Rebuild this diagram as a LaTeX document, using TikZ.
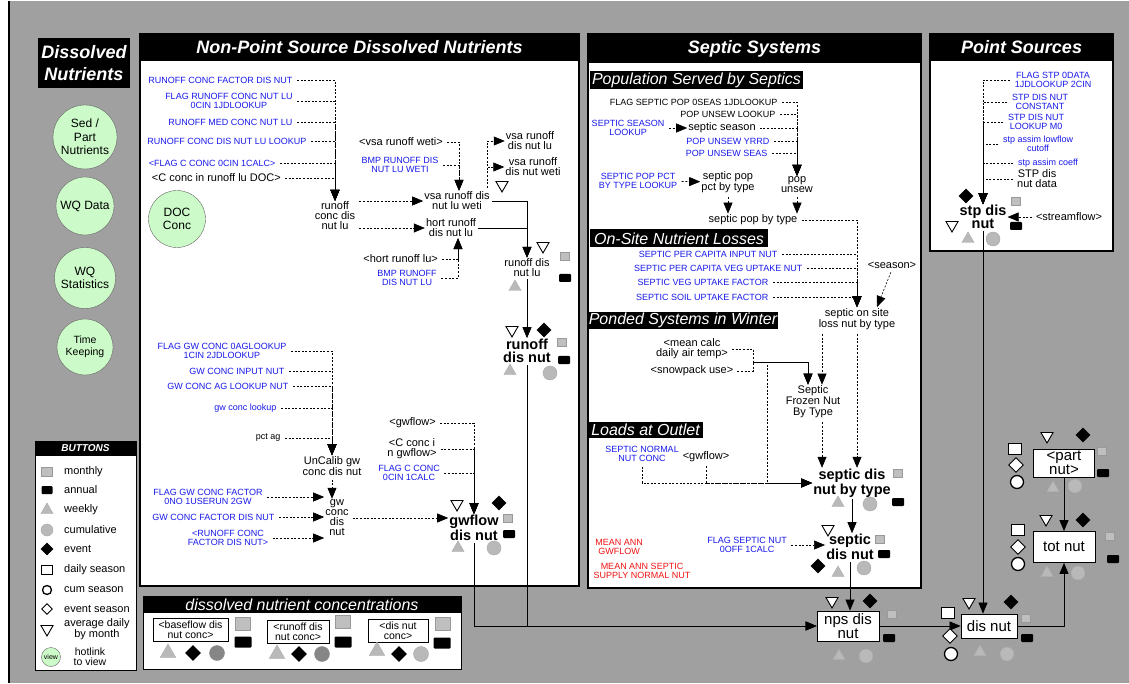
\documentclass[tikz,border=0pt]{standalone}
\usepackage{fontspec}
\setmainfont{Liberation Sans}
\usepackage{tikz}
\usetikzlibrary{arrows.meta,positioning,calc,shapes.geometric}
\definecolor{bggray}{RGB}{160,160,160}
\definecolor{hotgreen}{RGB}{204,250,200}
\definecolor{vblue}{RGB}{25,25,235}
\definecolor{vred}{RGB}{240,20,20}

\begin{document}
\begin{tikzpicture}[x=1pt,y=-1pt,>={Triangle[length=11pt,width=9pt]},
  lbl/.style={align=center,inner sep=1pt,font=\fontsize{11}{10}\selectfont},
  cst/.style={align=center,inner sep=1.5pt,text=vblue,font=\fontsize{9}{9.5}\selectfont},
  sml/.style={cst,text=black},
  rdl/.style={cst,text=vred},
  big/.style={align=center,inner sep=1pt,font=\fontsize{14.5}{12.5}\selectfont\bfseries},
  bx/.style={draw,fill=white,line width=0.8pt,align=center,inner sep=0pt,font=\fontsize{15}{12}\selectfont},
  cbx/.style={draw,fill=white,line width=0.8pt,align=center,inner sep=0pt,font=\fontsize{10.5}{10}\selectfont},
  hot/.style={circle,draw=black!60,fill=hotgreen,align=center,inner sep=0pt,font=\fontsize{12}{13.5}\selectfont},
  ttl/.style={text=white,font=\fontsize{18}{18}\selectfont\bfseries\itshape},
  titlebar/.style={fill=black,text=white,inner sep=0pt,font=\fontsize{16}{16}\selectfont\itshape},
  info/.style={->,shorten <=3pt,line width=0.6pt,dash pattern=on 2pt off 1.6pt},
  flow/.style={->,shorten <=1pt,line width=0.7pt},
  imon/.style={rectangle,draw=gray!80,fill=gray!50,minimum width=#1,minimum height=0.85*#1,inner sep=0pt},
  imon/.default=9pt,
  iann/.style={rectangle,fill=black,rounded corners=1pt,minimum width=#1,minimum height=8pt,inner sep=0pt},
  iann/.default=12pt,
  iwk/.style={regular polygon,regular polygon sides=3,draw=gray!65,fill=gray!55,minimum size=#1,inner sep=0pt},
  iwk/.default=14pt,
  icum/.style={circle,draw=gray!70,fill=gray!55,minimum size=#1,inner sep=0pt},
  icum/.default=14pt,
  ievt/.style={diamond,fill=black,minimum size=#1,inner sep=0pt},
  ievt/.default=15pt,
  iavg/.style={regular polygon,regular polygon sides=3,shape border rotate=180,draw,line width=0.9pt,fill=white,minimum size=#1,inner sep=0pt},
  iavg/.default=14pt,
  idse/.style={rectangle,draw,line width=1pt,fill=white,minimum width=#1,minimum height=0.85*#1,inner sep=0pt},
  idse/.default=13pt,
  icse/.style={circle,draw,line width=1.3pt,fill=white,minimum size=#1,inner sep=0pt},
  icse/.default=13pt,
  iese/.style={diamond,draw,line width=0.9pt,fill=white,minimum size=#1,inner sep=0pt},
  iese/.default=15pt,
  cmon/.style={imon=15pt},
  cann/.style={iann=17pt,minimum height=11pt},
  cwk/.style={iwk=18pt},
  cevt/.style={ievt=16pt},
  ccum/.style={icum=15pt},
  ccumd/.style={icum=15pt,draw=gray!95,fill=gray!95}]

  \fill[bggray] (0,0) rectangle (1129,682);
  \fill[white] (0,0) rectangle (8,682);
  \draw[line width=2pt] (9,0) -- (9,682);
  \useasboundingbox (0,0) rectangle (1129,682);

  \node[fill=black,text=white,align=center,inner sep=0pt,minimum width=92pt,minimum height=50pt,font=\fontsize{18}{22}\selectfont\bfseries\itshape] (tdn) at (84,62) {Dissolved\\Nutrients};
  \node[hot,minimum size=64pt] (sed) at (85,136) {Sed /\\Part\\Nutrients};
  \node[hot,minimum size=58pt] (wqd) at (85,205) {WQ Data};
  \node[hot,minimum size=61pt] (wqs) at (85,277) {WQ\\Statistics};
  \node[hot,minimum size=56pt,font=\fontsize{10.5}{12}\selectfont] (tk) at (85,346) {Time\\Keeping};

  \draw[fill=white,line width=1pt] (35,440) rectangle (136,669);
  \node[fill=black,text=white,inner sep=0pt,minimum width=101pt,minimum height=15pt,font=\fontsize{10}{10}\selectfont\bfseries\itshape] (bbut) at (85.5,447.5) {BUTTONS};
  \foreach \s/\z/\y/\t [count=\i] in {imon/11pt/471/monthly,iann/11pt/489/annual,iwk/14pt/509/weekly,icum/12pt/529/cumulative,ievt/13pt/548/event,idse/11pt/569/daily season,icse/9pt/589/cum season,iese/11pt/608/event season,iavg/14pt/628/{average daily\\by month}} {
    \node[\s=\z] (lg\i) at (47,\y) {};
    \node[lbl,anchor=west,font=\fontsize{11}{9.5}\selectfont] (lt\i) at (63,\y) {\t};
  }
  \node[hot,minimum size=19pt,font=\fontsize{7}{7}\selectfont] (view) at (51,656) {view};
  \node[lbl,font=\fontsize{10.5}{10}\selectfont] (hl) at (90,656) {hotlink\\to view};

  \draw[fill=white,line width=1.5pt] (140,33) rectangle (579,585);
  \fill (140,33) rectangle (579,60);
  \node[ttl] (tnps) at (359.5,46.5) {Non-Point Source Dissolved Nutrients};
  \draw[fill=white,line width=1.5pt] (588,33) rectangle (921,587);
  \fill (588,33) rectangle (921,62);
  \node[ttl] (tsep) at (754.5,47.5) {Septic Systems};
  \draw[fill=white,line width=1.5pt] (930,33) rectangle (1113,250);
  \fill (930,33) rectangle (1113,60);
  \node[ttl] (tpnt) at (1021.5,46.5) {Point Sources};
  \node[titlebar,minimum width=213pt,minimum height=18pt] (bpop) at (696.5,79) {Population Served by Septics};
  \node[titlebar,minimum width=178pt,minimum height=18pt] (bons) at (679,237.5) {On-Site Nutrient Losses};
  \node[titlebar,minimum width=190pt,minimum height=17pt] (bpnd) at (683,319.5) {Ponded Systems in Winter};
  \node[titlebar,minimum width=115pt,minimum height=16pt] (bout) at (645.5,429) {Loads at Outlet};
  \draw[fill=white,line width=1pt] (143,595) rectangle (461,668);
  \node[titlebar,minimum width=318pt,minimum height=17pt] (bcon) at (302,603.5) {dissolved nutrient concentrations};

  \node[cst,anchor=east] (rcf) at (294,79) {RUNOFF CONC FACTOR DIS NUT};
  \node[cst] (frc) at (229,100) {FLAG RUNOFF CONC NUT LU\\0CIN 1JDLOOKUP};
  \node[cst,anchor=east] (rmc) at (294,121) {RUNOFF MED CONC NUT LU};
  \node[cst,anchor=east] (rcl) at (308,140) {RUNOFF CONC DIS NUT LU LOOKUP};
  \node[cst,anchor=east] (fcc) at (277,162) {<FLAG C CONC 0CIN 1CALC>};
  \node[lbl,anchor=east] (cdoc) at (282,177) {<C conc in runoff lu DOC>};
  \node[lbl] (rcdnl) at (335,215) {runoff\\conc dis\\nut lu};
  \node[hot,minimum size=57pt] (doc) at (177,218) {DOC\\Conc};
  \node[lbl] (vsaw) at (457,200) {vsa runoff dis\\nut lu weti};
  \node[lbl] (hort) at (451,227) {hort runoff\\dis nut lu};
  \node[lbl,anchor=east] (vsawi) at (444,141) {<vsa runoff weti>};
  \node[cst] (bmpw) at (400,164) {BMP RUNOFF DIS\\NUT LU WETI};
  \node[lbl,anchor=east] (hortlu) at (439,258) {<hort runoff lu>};
  \node[cst] (bmph) at (407,277) {BMP RUNOFF\\DIS NUT LU};
  \node[lbl] (vsal) at (530,140) {vsa runoff\\dis nut lu};
  \node[lbl] (vsat) at (533,166) {vsa runoff\\dis nut weti};
  \node[lbl] (rdnl) at (527,267) {runoff dis\\nut lu};
  \node[big] (rdn) at (527,350) {runoff\\dis nut};

  \node[cst] (fgw) at (222,350) {FLAG GW CONC 0AGLOOKUP\\1CIN 2JDLOOKUP};
  \node[cst,anchor=east] (gwin) at (286,370) {GW CONC INPUT NUT};
  \node[cst,anchor=east] (gwag) at (290,385) {GW CONC AG LOOKUP NUT};
  \node[cst,anchor=east] (gwl) at (278,407) {gw conc lookup};
  \node[sml,anchor=east] (pctag) at (282,437) {pct ag};
  \node[lbl] (ugw) at (332,465) {UnCalib gw\\conc dis nut};
  \node[lbl] (gwc) at (337,517) {gw\\conc\\dis\\nut};
  \node[cst] (fgwf) at (208,496) {FLAG GW CONC FACTOR\\0NO 1USERUN 2GW};
  \node[cst,anchor=east] (gwcf) at (276,516) {GW CONC FACTOR DIS NUT};
  \node[cst] (rcfd) at (228,537) {<RUNOFF CONC\\FACTOR DIS NUT>};
  \node[big] (gwdn) at (474,527) {gwflow\\dis nut};
  \node[lbl,anchor=east] (gwf) at (437,422) {<gwflow>};
  \node[lbl] (ccg) at (412,448) {<C conc i\\n gwflow>};
  \node[cst] (fcc2) at (409,472) {FLAG C CONC\\0CIN 1CALC};

  \node[sml,anchor=east] (fsp) at (779,101) {FLAG SEPTIC POP 0SEAS 1JDLOOKUP};
  \node[sml,anchor=east] (pul) at (777,113) {POP UNSEW LOOKUP};
  \node[cst] (ssl) at (628,127) {SEPTIC SEASON\\LOOKUP};
  \node[lbl] (ss) at (722,127) {septic season};
  \node[cst,anchor=east] (puy) at (771,140) {POP UNSEW YRRD};
  \node[cst,anchor=east] (pus) at (769,152) {POP UNSEW SEAS};
  \node[lbl] (pu) at (797,184) {pop\\unsew};
  \node[cst] (spl) at (638,180) {SEPTIC POP PCT\\BY TYPE LOOKUP};
  \node[lbl] (spp) at (728,181) {septic pop\\pct by type};
  \node[lbl] (spt) at (753,219) {septic pop by type};
  \node[cst,anchor=east] (spc) at (779,253) {SEPTIC PER CAPITA INPUT NUT};
  \node[cst,anchor=east] (spv) at (804,267) {SEPTIC PER CAPITA VEG UPTAKE NUT};
  \node[cst,anchor=east] (svu) at (770,281) {SEPTIC VEG UPTAKE FACTOR};
  \node[cst,anchor=east] (ssu) at (770,296) {SEPTIC SOIL UPTAKE FACTOR};
  \node[lbl] (sea) at (892,264) {<season>};
  \node[lbl] (sos) at (857,318) {septic on site\\loss nut by type};
  \node[lbl] (mct) at (692,348) {<mean calc\\daily air temp>};
  \node[lbl] (snow) at (692,370) {<snowpack use>};
  \coordinate (pj) at (753,361);
  \coordinate (pk) at (767,361);
  \node[lbl,font=\fontsize{11}{11}\selectfont] (frz) at (813,401) {Septic\\Frozen Nut\\By Type};
  \node[big] (sdt) at (852,482) {septic dis\\nut by type};
  \node[cst] (snc) at (642,453) {SEPTIC NORMAL\\NUT CONC};
  \node[lbl] (gwf2) at (706,456) {<gwflow>};
  \node[big] (sdn) at (850,546) {septic\\dis nut};
  \node[cst] (fsn) at (747,544) {FLAG SEPTIC NUT\\0OFF 1CALC};
  \node[rdl] (mag) at (619,546) {MEAN ANN\\GWFLOW};
  \node[rdl] (mas) at (642,570) {MEAN ANN SEPTIC\\SUPPLY NORMAL NUT};

  \node[cst] (fstp) at (1053,79) {FLAG STP 0DATA\\1JDLOOKUP 2CIN};
  \node[cst] (stpc) at (1040,101) {STP DIS NUT\\CONSTANT};
  \node[cst] (stpl) at (1036,121) {STP DIS NUT\\LOOKUP M0};
  \node[cst] (sal) at (1038,143) {stp assim lowflow\\cutoff};
  \node[cst] (sac) at (1048,162) {stp assim coeff};
  \node[lbl] (stpd) at (1037,178) {STP dis\\nut data};
  \node[big] (stp) at (983,216) {stp dis\\nut};
  \node[lbl] (sf) at (1069,216) {<streamflow>};

  \node[bx,minimum width=62pt,minimum height=30pt] (nps) at (848,625) {nps dis\\nut};
  \node[bx,minimum width=56pt,minimum height=24pt] (dis) at (989,625) {dis nut};
  \node[bx,minimum width=62pt,minimum height=31pt] (tot) at (1064,546) {tot nut};
  \node[bx,minimum width=61pt,minimum height=28pt] (part) at (1064,462) {<part\\nut>};

  \node[cbx,minimum width=75pt,minimum height=23pt] (bfc) at (190.5,628.5) {<baseflow dis\\nut conc>};
  \node[cbx,minimum width=62pt,minimum height=23pt] (rfc) at (298,630.5) {<runoff dis\\nut conc>};
  \node[cbx,minimum width=60pt,minimum height=23pt] (dnc) at (398,629.5) {<dis nut\\conc>};

  \foreach \n in {rcf,frc,rmc,rcl,fcc,cdoc} \draw[info] (\n.east) -| (rcdnl.north);
  \draw[info] (rcdnl.east |- vsaw) -- (vsaw.west);
  \draw[info] (rcdnl.east |- hort) -- (hort.west);
  \foreach \n in {vsawi,bmpw} \draw[info] (\n.east) -| ([xshift=2pt]vsaw.north);
  \foreach \n in {hortlu,bmph} \draw[info] (\n.east) -| ([xshift=7pt]hort.south);
  \draw[info] ([xshift=30pt]vsaw.north) |- (vsal.west);
  \draw[info] ([xshift=30pt]vsaw.north) |- (vsat.west);
  \draw[flow] (vsaw.east) -| (rdnl.north);
  \draw[flow] (hort.east) -| (rdnl.north);
  \draw[flow] (rdnl) -- (rdn);
  \foreach \n in {fgw,gwin,gwag,gwl,pctag} \draw[info] (\n.east) -| (ugw.north);
  \draw[info] (ugw.south) -- (ugw.south |- gwc.north);
  \foreach \n in {fgwf,gwcf,rcfd} \draw[info] (\n.east) -- (\n.east -| gwc.west);
  \draw[info] (gwc.east) -- (gwc.east -| gwdn.west);
  \foreach \n in {gwf,ccg,fcc2} \draw[info] (\n.east) -| (gwdn.north);
  \draw[flow] (rdn.south) |- (nps.west);
  \draw[flow] (gwdn.south) |- (nps.west);

  \foreach \n in {fsp,pul,ss,puy,pus} \draw[info] (\n.east) -| (pu.north);
  \draw[info] (ssl) -- (ss);
  \draw[info] (spl) -- (spp);
  \draw[info] (spp.south) -- (spp.south |- spt.north);
  \draw[info] (pu.south) -- (pu.south |- spt.north);
  \foreach \n in {spt,spc,spv,svu,ssu} \draw[info] (\n.east) -| (sos.north);
  \draw[info] (sea.south) -- ([xshift=20pt]sos.north);
  \foreach \n in {mct,snow} \draw[info] (\n.east) -| (pj) -| ([xshift=-5pt]frz.north);
  \draw[info] (mct.east) -| (pj) -- (pk) |- (sdt.west);
  \draw[info] (snc.south) |- (sdt.west);
  \draw[info] (gwf2.south) |- (sdt.west);
  \draw[info] ([xshift=-35pt]sos.south) -- ([xshift=9pt]frz.north);
  \draw[info] (sos.south) -- (sos.south |- sdt.north);
  \draw[info] ([xshift=9pt]frz.south) -- ([xshift=9pt]frz.south |- sdt.north);
  \draw[flow] (sdt.south) -- (sdt.south |- sdn.north);
  \draw[info] (fsn.east) -- (fsn.east -| sdn.west);
  \draw[flow] (sdn.south) -- (sdn.south |- nps.north);

  \foreach \n in {fstp,stpc,stpl,sal,sac,stpd} \draw[info] (\n.west) -| (stp.north);
  \draw[info] (sf.west) -- (sf.west -| stp.east);
  \draw[flow] (stp.south) -- (stp.south |- dis.north);
  \draw[flow] (nps) -- (dis);
  \draw[flow] (dis.east) -| (tot.south);
  \draw[flow] (part) -- (tot);

  \foreach \s/\x/\y [count=\i] in {iavg/502/184,iavg/543/245,imon/565/255,iann/565/277,iwk/515/286,
    iavg/512/329,ievt/544/329,imon/562/341,iann/564/359,iwk/510/370,icum/550/372,
    iavg/457/503,ievt/499/502,imon/508/517,iann/509/533,iwk/458/547,icum/494/547,
    imon/898/472,iann/898/501,iwk/838/502,icum/870/503,
    iavg/828/528,imon/880/538,iann/884/553,ievt/818/565,iwk/838/572,icum/864/567,
    ievt/966/195,iavg/952/224,imon/1016/200,iann/1016/225,iwk/968/238,icum/993/238,
    iavg/832/600,ievt/870/600,imon/892/613,iann/889/637,iwk/839/655,icum/866/655,
    iavg/969/601,ievt/1011/601,imon/1026/617,iann/1027/637,iwk/980/651,icum/1007/653,idse/948/612,iese/950/635,icse/951/653,
    iavg/1046/518,ievt/1083/519,imon/1110/535,iann/1113/558,iwk/1047/572,icum/1078/572,idse/1018/529,iese/1018/546,icse/1018/563,
    iavg/1047/435,ievt/1083/434,imon/1102/450,iann/1103/472,iwk/1053/487,icum/1075/485,idse/1015/448,iese/1016/464,icse/1017/481,
    cmon/243/623,cann/243/641,cwk/168/652,cevt/193/652,ccumd/217/652,
    cmon/343/621,cann/343/641,cwk/277/653,cevt/299/653,ccumd/322/653,
    cmon/443/623,cann/442/642,cwk/377/650,cevt/399/653,ccum/421/653}
    \node[\s] (ic\i) at (\x,\y) {};
\end{tikzpicture}
\end{document}
